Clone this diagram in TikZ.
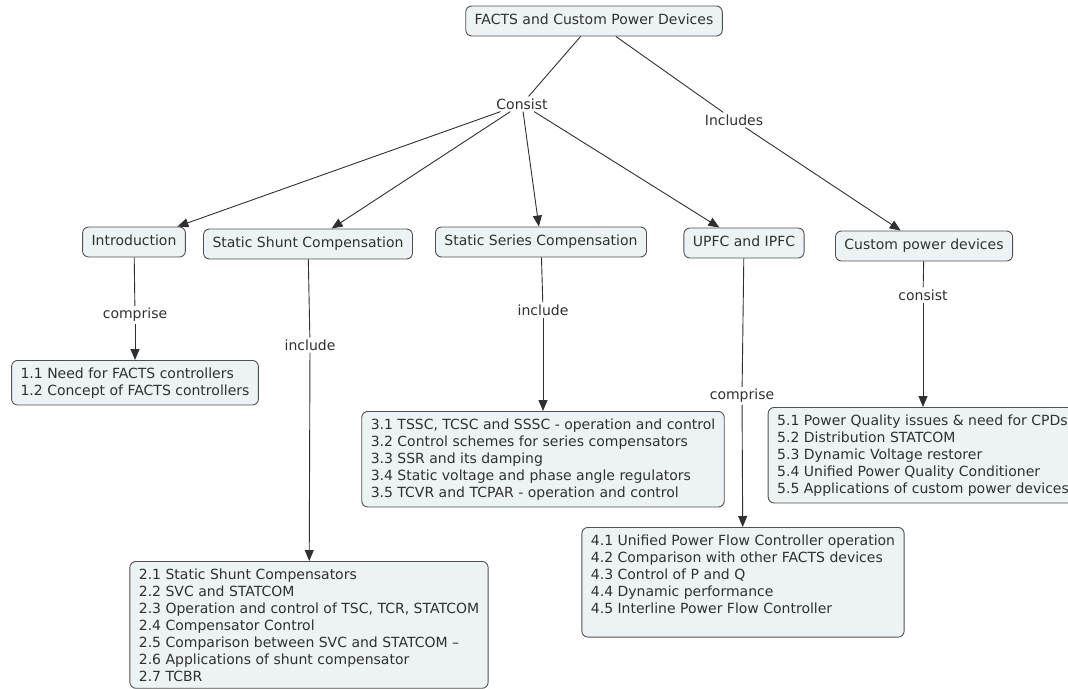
\documentclass[tikz,border=0pt]{standalone}
\usepackage{fontspec}
\setmainfont{DejaVu Sans}
\usepackage{tikz}
\usetikzlibrary{arrows.meta}
\definecolor{boxfill}{HTML}{EDF3F5}
\definecolor{boxline}{HTML}{505050}
\definecolor{inkgrey}{HTML}{303030}
\tikzset{
    boxbase/.style={draw=boxline, fill=boxfill, rounded corners=6pt, line width=0.9pt,
        text=inkgrey, font=\fontsize{14}{17}\selectfont},
    concept/.style={boxbase, inner xsep=9pt, inner ysep=8.5pt, text height=10pt, text depth=3pt},
    topic/.style={boxbase, align=left, inner xsep=9pt, inner ysep=7pt, anchor=north},
    linklabel/.style={text=inkgrey, font=\fontsize{14}{17}\selectfont, inner sep=2pt},
    link/.style={draw=inkgrey, line width=0.9pt},
    arrowlink/.style={link, -{Triangle[width=9pt,length=11pt]}}
}

\begin{document}
\begin{tikzpicture}[x=1pt, y=-1pt]
    \useasboundingbox (0,0) rectangle (1068,688);

    % root
    \node[concept] (facts) at (594,21) {FACTS and Custom Power Devices};

    % units
    \node[concept] (intro) at (134,242) {Introduction};
    \node[concept] (shunt) at (308,244) {Static Shunt Compensation};
    \node[concept] (series) at (541,242) {Static Series Compensation};
    \node[concept] (upfc) at (744,243) {UPFC and IPFC};
    \node[concept] (custom) at (924,246) {Custom power devices};

    % linking phrases
    \node[linklabel] (consist) at (522,104) {Consist};
    \node[linklabel] (includes) at (734,120) {Includes};
    \node[linklabel] (comprise1) at (135,315) {comprise};
    \node[linklabel] (include2) at (310,345) {include};
    \node[linklabel] (include3) at (543,310) {include};
    \node[linklabel] (comprise4) at (742,396) {comprise};
    \node[linklabel] (consist5) at (923,295) {consist};

    % topic lists
    \node[topic] (intro list) at (135,360) {1.1 Need for FACTS controllers\\
        1.2 Concept of FACTS controllers};
    \node[topic] (shunt list) at (309,561) {2.1 Static Shunt Compensators\\
        2.2 SVC and STATCOM\\
        2.3 Operation and control of TSC, TCR, STATCOM\\
        2.4 Compensator Control\\
        2.5 Comparison between SVC and STATCOM --\\
        2.6 Applications of shunt compensator\\
        2.7 TCBR};
    \node[topic] (series list) at (543,411) {3.1 TSSC, TCSC and SSSC - operation and control\\
        3.2 Control schemes for series compensators\\
        3.3 SSR and its damping\\
        3.4 Static voltage and phase angle regulators\\
        3.5 TCVR and TCPAR - operation and control};
    \node[topic] (upfc list) at (743,527) {4.1 Unified Power Flow Controller operation\\
        4.2 Comparison with other FACTS devices\\
        4.3 Control of P and Q\\
        4.4 Dynamic performance\\
        4.5 Interline Power Flow Controller\\
        \mbox{}};
    \node[topic] (custom list) at (923,407) {5.1 Power Quality issues \& need for CPDs\\
        5.2 Distribution STATCOM\\
        5.3 Dynamic Voltage restorer\\
        5.4 Unified Power Quality Conditioner\\
        5.5 Applications of custom power devices};

    % connections
    \draw[link] (facts) -- (consist);
    \draw[link] (facts) -- (includes);
    \foreach \unit in {intro, shunt, series, upfc}
        \draw[arrowlink] (consist) -- (\unit);
    \draw[arrowlink] (includes) -- (custom);

    \draw[link] (intro) -- (comprise1);
    \draw[arrowlink] (comprise1) -- (intro list);
    \draw[link] (shunt) -- (include2);
    \draw[arrowlink] (include2) -- (shunt list);
    \draw[link] (series) -- (include3);
    \draw[arrowlink] (include3) -- (series list);
    \draw[link] (upfc) -- (comprise4);
    \draw[arrowlink] (comprise4) -- (upfc list);
    \draw[link] (custom) -- (consist5);
    \draw[arrowlink] (consist5) -- (custom list);
\end{tikzpicture}
\end{document}
